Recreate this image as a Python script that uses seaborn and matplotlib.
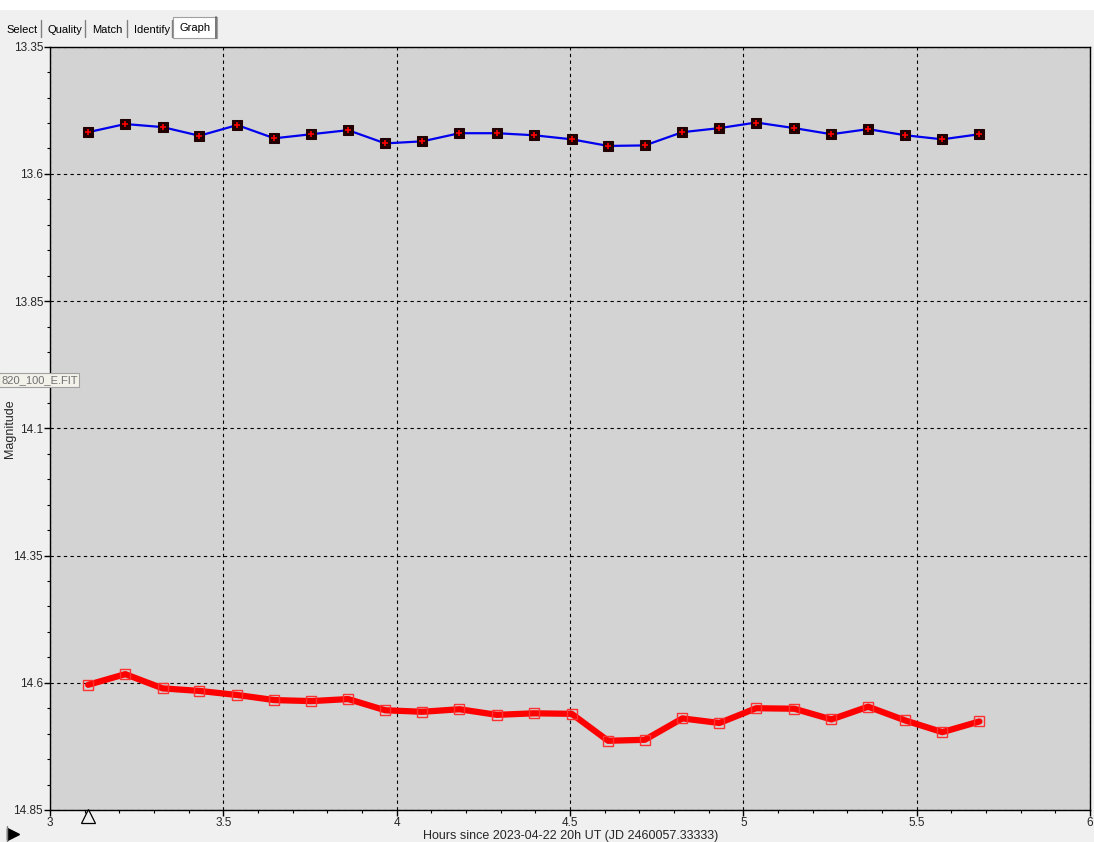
import numpy as np
import pandas as pd
import matplotlib
matplotlib.use('Agg')
import matplotlib.pyplot as plt
from matplotlib.patches import Rectangle
from matplotlib.lines import Line2D
import seaborn as sns

# hours since 2023-04-22 20h UT
hours = [3.110, 3.217, 3.325, 3.431, 3.540, 3.647, 3.754, 3.860, 3.967, 4.074,
         4.181, 4.289, 4.396, 4.505, 4.610, 4.716, 4.824, 4.931, 5.037, 5.147,
         5.254, 5.360, 5.467, 5.574, 5.681]
# comparison star (blue)
comp_mag = [13.518, 13.502, 13.508, 13.525, 13.504, 13.530, 13.522, 13.514, 13.540, 13.536,
            13.520, 13.520, 13.524, 13.532, 13.545, 13.544, 13.518, 13.510, 13.499, 13.510,
            13.522, 13.512, 13.524, 13.532, 13.522]
# target star (red)
var_mag = [14.604, 14.583, 14.611, 14.616, 14.624, 14.634, 14.636, 14.632, 14.654, 14.657,
           14.652, 14.663, 14.660, 14.661, 14.714, 14.712, 14.670, 14.679, 14.650, 14.651,
           14.672, 14.647, 14.674, 14.697, 14.676]

y_ticks = [13.35, 13.6, 13.85, 14.1, 14.35, 14.6, 14.85]
y_labels = ['13.35', '13.6', '13.85', '14.1', '14.35', '14.6', '14.85']
x_ticks = [3, 3.5, 4, 4.5, 5, 5.5, 6]
x_labels = ['3', '3.5', '4', '4.5', '5', '5.5', '6']
tabs = ['Select', 'Quality', 'Match', 'Identify']

df = pd.DataFrame({'hours': hours, 'comp': comp_mag, 'var': var_mag})

sns.set_style('white')
plt.rcParams['font.family'] = ['Liberation Sans', 'DejaVu Sans']

fig = plt.figure(figsize=(10.94, 8.42), dpi=100, facecolor='#f0f0f0')
ax = fig.add_axes([50 / 1094, 32 / 842, 1040 / 1094, 763.3 / 842])
ax.set_facecolor('#d3d3d3')

# top white strip
fig.patches.append(Rectangle((0, 1 - 10 / 842), 1, 10 / 842, transform=fig.transFigure,
                             facecolor='white', edgecolor='none', zorder=0))

# blue series: black squares with red crosses
sns.lineplot(data=df, x='hours', y='comp', ax=ax, color='#0000ee', linewidth=1.6,
             marker='s', markersize=7, markerfacecolor='#200000', markeredgecolor='#200000', zorder=3)
sns.scatterplot(data=df, x='hours', y='comp', ax=ax, marker='+', s=25, color='red',
                linewidth=1.2, zorder=4)

# red series: thick line with hollow squares
sns.lineplot(data=df, x='hours', y='var', ax=ax, color='#ff0000', linewidth=4.5,
             marker='s', markersize=7, markerfacecolor='none', markeredgecolor='#ff3030',
             markeredgewidth=1.0, zorder=3)

ax.set_xlim(3, 6)
ax.set_ylim(14.85, 13.35)
ax.set_xticks(x_ticks)
ax.set_xticklabels(x_labels)
ax.set_yticks(y_ticks)
ax.set_yticklabels(y_labels)
ax.set_xticks(np.arange(3, 6.01, 0.1), minor=True)
ax.set_yticks(np.arange(13.35, 14.851, 0.05), minor=True)
ax.tick_params(axis='both', which='major', length=4, width=1, color='black',
               labelsize=8.5, pad=1, direction='out')
ax.tick_params(axis='both', which='minor', length=2.5, width=0.8, color='black', direction='out')
ax.tick_params(axis='x', which='both', bottom=True)
ax.tick_params(axis='y', which='both', left=True)
ax.grid(True, which='major', color='black', linestyle=(0, (3, 3)), linewidth=0.8)
for s in ax.spines.values():
    s.set_color('black')
    s.set_linewidth(1)

ax.set_xlabel('Hours since 2023-04-22 20h UT (JD 2460057.33333)', fontsize=9)
ax.xaxis.set_label_coords(0.501, -26 / 763.3)
ax.xaxis.label.set_va('center')
ax.set_ylabel('Magnitude', fontsize=9)
ax.yaxis.set_label_coords(-40 / 1040, 0.5)
ax.yaxis.label.set_va('center')

# marker below axis at first observation
ax.plot([hours[0]], [-0.008], transform=ax.get_xaxis_transform(), marker='^',
        markersize=10, markerfacecolor='none', markeredgecolor='black',
        markeredgewidth=0.9, clip_on=False, zorder=5)

# tabs
tab_x = [6, 47, 92, 134]
sep_x = [41, 85, 127, 172]
for t, x in zip(tabs, tab_x):
    fig.text(x / 1094, 1 - 30 / 842, t, fontsize=8, ha='left', va='center', color='black')
for x in sep_x:
    fig.add_artist(Line2D([x / 1094, x / 1094], [1 - 37 / 842, 1 - 20 / 842],
                          color='#808080', linewidth=1))
fig.patches.append(Rectangle((173 / 1094, 1 - 38 / 842), 44 / 1094, 21 / 842,
                             transform=fig.transFigure, facecolor='white',
                             edgecolor='#a0a0a0', linewidth=0.8, zorder=1))
fig.add_artist(Line2D([216 / 1094, 216 / 1094], [1 - 38 / 842, 1 - 17 / 842],
                      color='#606060', linewidth=1.2))
fig.text(180 / 1094, 1 - 28 / 842, 'Graph', fontsize=8, ha='left', va='center', color='black')

# tooltip
fig.text(1 / 1094, 1 - 380 / 842, '820_100_E.FIT', fontsize=8, ha='left', va='center',
         color='#707070', zorder=10,
         bbox=dict(boxstyle='square,pad=0.15', facecolor='#f2f2ea', edgecolor='#a0a0a0', linewidth=0.8))

# play icon bottom left
fig.add_artist(Line2D([13 / 1094], [1 - 834 / 842], marker='>', markersize=8,
                      color='black', linestyle='none'))
fig.add_artist(Line2D([7 / 1094, 7 / 1094], [0, 1 - 826 / 842], color='#808080', linewidth=1))

fig.savefig('out.png', dpi=100, facecolor=fig.get_facecolor())
